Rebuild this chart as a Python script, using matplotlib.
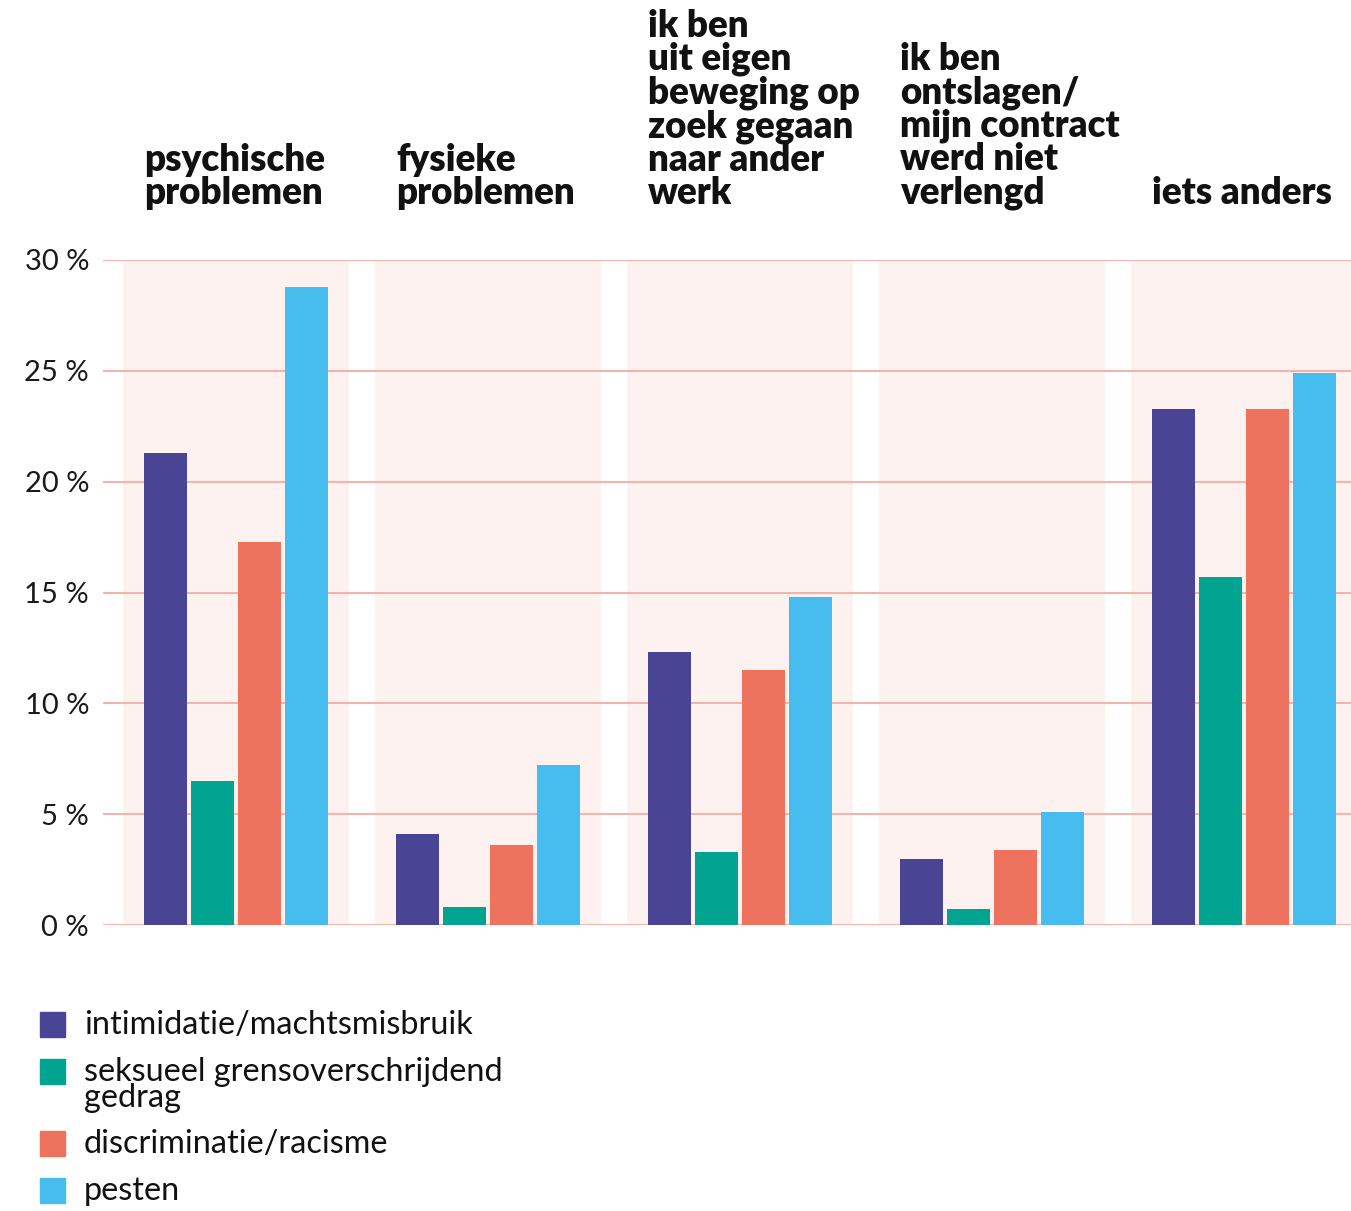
import matplotlib
matplotlib.use("Agg")
import matplotlib.pyplot as plt
import matplotlib.transforms as mtransforms
from matplotlib.patches import Rectangle
import numpy as np

plt.rcParams["font.family"] = ["Lato", "DejaVu Sans"]

# data
categories = [
    "psychische\nproblemen",
    "fysieke\nproblemen",
    "ik ben\nuit eigen\nbeweging op\nzoek gegaan\nnaar ander\nwerk",
    "ik ben\nontslagen/\nmijn contract\nwerd niet\nverlengd",
    "iets anders",
]
series_names = [
    "intimidatie/machtsmisbruik",
    "seksueel grensoverschrijdend\ngedrag",
    "discriminatie/racisme",
    "pesten",
]
intimidatie = [21.3, 4.1, 12.3, 3.0, 23.3]
seksueel = [6.5, 0.8, 3.3, 0.7, 15.7]
discriminatie = [17.3, 3.6, 11.5, 3.4, 23.3]
pesten = [28.8, 7.2, 14.8, 5.1, 24.9]
yticks = [0, 5, 10, 15, 20, 25, 30]

colors = ["#4a4495", "#00a490", "#ee735e", "#46bdee"]
panel_color = "#fdf2ef"
grid_color = "#f2b5ab"

W, H = 1351, 1211
fig = plt.figure(figsize=(W / 100, H / 100), dpi=100)
ax = fig.add_axes([103 / W, (H - 925) / H, 1248 / W, 665 / H])

x = np.arange(len(categories))
step = 0.1865
width = 0.17
values = [intimidatie, seksueel, discriminatie, pesten]

for c in x:
    ax.axvspan(c - 0.449, c + 0.449, color=panel_color, zorder=0, lw=0)

for y in yticks:
    ax.axhline(y, color=grid_color, lw=1.5, zorder=1)

for i, (vals, col) in enumerate(zip(values, colors)):
    ax.bar(x + (i - 1.5) * step, vals, width=width, color=col, zorder=2)

ax.set_xlim(-0.528, 4.425)
ax.set_ylim(0, 30)
ax.set_yticks(yticks)
ax.set_yticklabels([f"{v} %" for v in yticks], fontsize=21, color="#1a1a1a")
ax.tick_params(axis="y", length=0, pad=10)
ax.set_xticks([])
for s in ax.spines.values():
    s.set_visible(False)

trans = mtransforms.blended_transform_factory(ax.transData, ax.transAxes)
for c, label in zip(x, categories):
    ax.text(c - 0.365, 1.075, label, transform=trans, ha="left", va="bottom",
            fontsize=26.5, fontweight="heavy", linespacing=0.97, color="#111111")

# legend drawn by hand
legend_y = [1024, 1071, 1143, 1190]
for name, col, ly in zip(series_names, colors, legend_y):
    fig.patches.append(Rectangle((40 / W, (H - ly - 12.5) / H), 25 / W, 25 / H,
                                 transform=fig.transFigure, color=col))
    # baseline of the last line
    baseline = ly + 10 + 26 * name.count("\n")
    fig.text(84 / W, (H - baseline) / H, name, ha="left", va="baseline",
             fontsize=23.3, linespacing=0.85, color="#111111")

fig.savefig("out.png", dpi=100)
